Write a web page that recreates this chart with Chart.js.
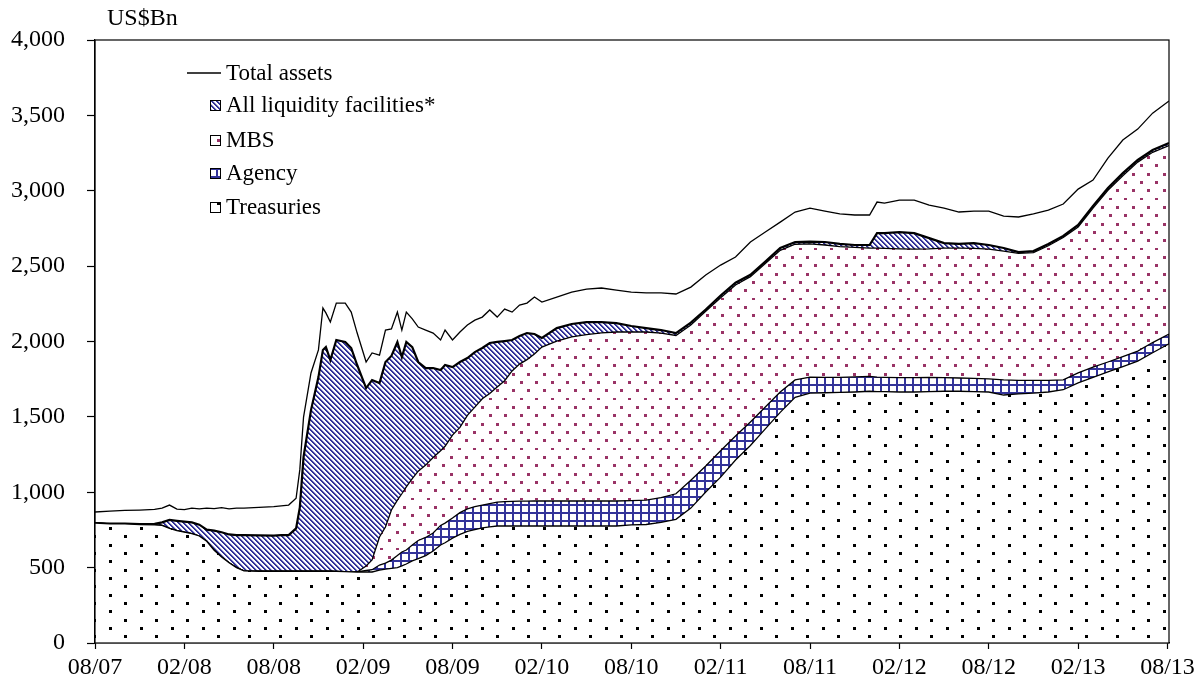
<!DOCTYPE html>
<html>
<head>
<meta charset="utf-8">
<script src="https://cdn.jsdelivr.net/npm/chart.js@4.4.1/dist/chart.umd.min.js"></script>
<style>
  body { margin: 0; background: #fff; }
</style>
</head>
<body>
<canvas id="fedChart" width="1202" height="686"></canvas>
<script>
// months since Aug 2007 (x positions of the readings)
const monthsSinceAug07 = [
  0, 1, 2, 3, 4, 4.5, 5, 5.5, 6, 6.5, 7, 7.5, 8, 8.5, 9, 9.5, 10,
  11, 12, 12.5, 13, 13.5, 13.75,
  14, 14.5, 15, 15.3, 15.5, 15.8, 16.2, 16.8, 17.2, 17.6,
  18.2, 18.6, 19.1, 19.5, 19.9, 20.3, 20.6, 20.9, 21.3, 21.7, 22.2, 22.7, 23.2, 23.5,
  24, 24.5, 25, 25.5, 26, 26.5, 27, 27.5, 28, 28.5, 29, 29.5, 30,
  31, 32, 33, 34, 35, 36, 37, 38, 39, 40, 41, 42, 43, 44, 45, 46, 47, 48, 49, 50, 51, 52,
  52.5,
  53, 54, 55, 56, 57, 58, 59, 60, 61, 62, 63, 64, 65, 66, 67, 68, 69, 70, 71, 72.1
];

const treasuries = [
  796, 790, 790, 786, 783, 780, 760, 745, 735, 725, 710, 675, 615, 570, 532, 500, 478,
  476, 476, 476, 476, 476, 476,
  476, 476, 476, 476, 476, 476, 475, 474, 472, 471,
  471, 471, 484, 490, 495, 500, 512, 524, 545, 560, 580, 610, 650, 665,
  696, 720, 740, 752, 763, 770, 776, 776, 776, 776, 776, 776, 776,
  776, 776, 776, 776, 776, 783, 786, 800, 820, 895, 1002, 1100, 1214, 1310, 1420, 1530, 1630, 1658, 1660, 1662, 1665, 1670,
  1668,
  1668, 1665, 1665, 1668, 1670, 1670, 1668, 1665, 1645, 1652, 1658, 1665, 1680, 1725, 1762, 1798, 1834, 1870, 1925, 1985
];

const agency = [
  0, 0, 0, 0, 0, 0, 0, 0, 0, 0, 0, 0, 0, 0, 0, 0, 0,
  0, 0, 0, 0, 0, 0,
  0, 0, 0, 0, 0, 0, 0, 0, 0, 0,
  10, 15, 33, 40, 55, 80, 92, 93, 105, 120, 120, 120, 130, 130,
  133, 145, 150, 153, 152, 155, 159, 162, 164, 165, 165, 166, 166,
  166, 166, 166, 166, 166, 162, 162, 165, 170, 185, 172, 175, 159, 156, 146, 135, 115, 106, 102, 100, 100, 98,
  96,
  94, 95, 95, 94, 90, 88, 87, 87, 100, 90, 84, 77, 66, 67, 68, 66, 66, 66, 68, 65
];

const mbs = [
  0, 0, 0, 0, 0, 0, 0, 0, 0, 0, 0, 0, 0, 0, 0, 0, 0,
  0, 0, 0, 0, 0, 0,
  0, 0, 0, 0, 0, 0, 0, 0, 0, 0,
  30, 65, 186, 239, 332, 368, 386, 418, 440, 460, 480, 500, 495, 510,
  550, 565, 620, 660, 705, 730, 763, 802, 865, 909, 939, 975, 1021,
  1061, 1088, 1103, 1115, 1121, 1118, 1115, 1091, 1050, 1030, 1026, 1015, 1002, 964, 952, 940, 900, 884, 878, 868, 860, 852,
  856,
  856, 855, 853, 853, 860, 862, 863, 861, 855, 843, 848, 893, 944, 968, 1055, 1139, 1200, 1254, 1262, 1250
];

const liquidity = [
  0, 2, 2, 2, 7, 20, 56, 65, 70, 75, 75, 77, 130, 165, 188, 216, 238,
  238, 236, 239, 240, 284, 424,
  758, 1069, 1288, 1468, 1487, 1401, 1535, 1523, 1485, 1373,
  1180, 1193, 1021, 1095, 1022, 1049, 907, 962, 873, 724, 644, 594, 536, 539,
  451, 434, 380, 365, 337, 335, 299, 263, 205, 186, 176, 133, 60,
  86, 86, 84, 72, 59, 40, 26, 20, 16, 15, 12, 15, 15, 13, 12, 15, 15, 14, 20, 17, 15, 20,
  99,
  101, 111, 106, 71, 33, 27, 35, 27, 20, 8, 10, 12, 10, 13, 14, 15, 17, 14, 15, 16
];

const totalAssets = [
  869, 875, 880, 882, 886, 895, 915, 888, 885, 895, 890, 895, 892, 898, 890, 895, 895,
  900, 905, 910, 915, 960, 1150,
  1499, 1791, 1944, 2222, 2190, 2129, 2255, 2255, 2195, 2056,
  1864, 1924, 1910, 2076, 2083, 2195, 2076, 2195, 2150, 2096, 2076, 2056, 2010, 2076,
  2010, 2063, 2109, 2142, 2162, 2209, 2162, 2215, 2195, 2242, 2255, 2295, 2262,
  2295, 2328, 2348, 2355, 2341, 2328, 2322, 2322, 2315, 2361, 2441, 2507, 2560, 2660, 2726, 2792, 2859, 2885, 2865, 2846, 2839, 2839,
  2925,
  2918, 2938, 2938, 2905, 2885, 2859, 2865, 2865, 2832, 2826, 2846, 2872, 2912, 3011, 3071, 3217, 3336, 3409, 3515, 3595
];

const xTickLabels = ['08/07', '02/08', '08/08', '02/09', '08/09', '02/10', '08/10',
                     '02/11', '08/11', '02/12', '08/12', '02/13', '08/13'];
const yTicks = [0, 500, 1000, 1500, 2000, 2500, 3000, 3500, 4000];

const NAVY = '#333399';
const FONT = '"Liberation Serif", "Times New Roman", serif';

function makePattern(w, h, draw) {
  const c = document.createElement('canvas');
  c.width = w; c.height = h;
  const g = c.getContext('2d');
  g.fillStyle = '#fff';
  g.fillRect(0, 0, w, h);
  draw(g);
  return document.getElementById('fedChart').getContext('2d').createPattern(c, 'repeat');
}

const treasuryFill = makePattern(31, 50, g => {
  g.fillStyle = '#000';
  for (let i = 0; i < 6; i++) {
    const y = Math.round(i * 8.33) + 2;
    g.fillRect(i % 2 ? 16 : 0, y, 3, 3);
  }
});

const mbsFill = makePattern(31, 50, g => {
  g.fillStyle = '#993366';
  for (let i = 0; i < 6; i++) {
    const y = Math.round(i * 8.33) + 6;
    const off = i % 2 ? 8 : 0;
    g.fillRect(off, y, 3, 3);
    g.fillRect(off + 16, y, 3, 3);
  }
});

const liqFill = makePattern(5, 5, g => {
  for (let i = 0; i < 5; i++) {
    g.fillStyle = NAVY;
    g.fillRect(i, i, 1, 1);
    g.fillRect((i + 1) % 5, i, 1, 1);
    g.fillStyle = 'rgba(51,51,153,0.35)';
    g.fillRect((i + 2) % 5, i, 1, 1);
  }
});

const agencyFill = makePattern(8, 8, g => {
  g.fillStyle = NAVY;
  g.fillRect(0, 0, 8, 2);
  g.fillRect(0, 0, 2, 8);
});

const pts = arr => arr.map((v, i) => ({ x: monthsSinceAug07[i], y: v }));

const legendItems = [
  { label: 'Total assets', line: true },
  { label: 'All liquidity facilities*', fill: liqFill },
  { label: 'MBS', fill: mbsFill },
  { label: 'Agency', fill: agencyFill },
  { label: 'Treasuries', fill: treasuryFill }
];
const legendRowsY = [73, 105, 140, 173, 207];

const decorPlugin = {
  id: 'decor',
  afterDraw(chart) {
    const { ctx, chartArea: a } = chart;
    ctx.save();
    // plot frame
    ctx.strokeStyle = '#000';
    ctx.lineWidth = 1.2;
    ctx.strokeRect(a.left, a.top, a.right - a.left, a.bottom - a.top);
    // unit label
    ctx.fillStyle = '#000';
    ctx.font = '24px ' + FONT;
    ctx.textBaseline = 'middle';
    ctx.textAlign = 'left';
    ctx.fillText('US$Bn', 107, 19);
    // legend
    ctx.font = '23px ' + FONT;
    legendItems.forEach((it, i) => {
      const y = legendRowsY[i];
      if (it.line) {
        ctx.beginPath();
        ctx.lineWidth = 1.3;
        ctx.moveTo(187, y);
        ctx.lineTo(221, y);
        ctx.stroke();
      } else {
        ctx.fillStyle = it.fill;
        ctx.fillRect(210, y - 5, 10, 10);
        ctx.lineWidth = 1;
        ctx.strokeRect(210.5, y - 4.5, 10, 10);
      }
      ctx.fillStyle = '#000';
      ctx.fillText(it.label, 226, y + 1);
    });
    ctx.restore();
  }
};

new Chart(document.getElementById('fedChart'), {
  type: 'line',
  data: {
    datasets: [
      { label: 'Treasuries', data: pts(treasuries), stack: 'assets', fill: 'origin',
        backgroundColor: treasuryFill, borderColor: '#000', borderWidth: 1.3 },
      { label: 'Agency', data: pts(agency), stack: 'assets', fill: '-1',
        backgroundColor: agencyFill, borderColor: '#000', borderWidth: 1.3 },
      { label: 'MBS', data: pts(mbs), stack: 'assets', fill: '-1',
        backgroundColor: mbsFill, borderColor: '#000', borderWidth: 1.3 },
      { label: 'All liquidity facilities*', data: pts(liquidity), stack: 'assets', fill: '-1',
        backgroundColor: liqFill, borderColor: '#000', borderWidth: 2.2 },
      { label: 'Total assets', data: pts(totalAssets), stack: 'total', fill: false,
        borderColor: '#000', borderWidth: 1.3 }
    ]
  },
  options: {
    responsive: false,
    animation: false,
    layout: { padding: { left: 0, right: 33, top: 40, bottom: 0 } },
    elements: { point: { radius: 0 }, line: { tension: 0 } },
    plugins: { legend: { display: false }, tooltip: { enabled: false } },
    scales: {
      x: {
        type: 'linear',
        min: 0,
        max: 72.1,
        afterBuildTicks: s => { s.ticks = xTickLabels.map((_, i) => ({ value: i * 6 })); },
        afterFit: s => { s.height = 43; },
        ticks: {
          autoSkip: false, maxRotation: 0, padding: 4,
          color: '#000', font: { family: FONT, size: 24 },
          callback: v => xTickLabels[Math.round(v / 6)]
        },
        grid: { drawOnChartArea: false, color: '#000', tickLength: 6, tickWidth: 1.2 },
        border: { color: '#000', width: 1.2 }
      },
      y: {
        stacked: true,
        min: 0,
        max: 4000,
        afterBuildTicks: s => { s.ticks = yTicks.map(v => ({ value: v })); },
        afterFit: s => { s.width = 95; },
        ticks: {
          padding: 22,
          color: '#000', font: { family: FONT, size: 24 },
          callback: v => v.toString().replace(/\B(?=(\d{3})+(?!\d))/g, ',')
        },
        grid: { drawOnChartArea: false, color: '#000', tickLength: 8, tickWidth: 1.2 },
        border: { color: '#000', width: 1.2 }
      }
    }
  },
  plugins: [decorPlugin]
});
</script>
</body>
</html>
